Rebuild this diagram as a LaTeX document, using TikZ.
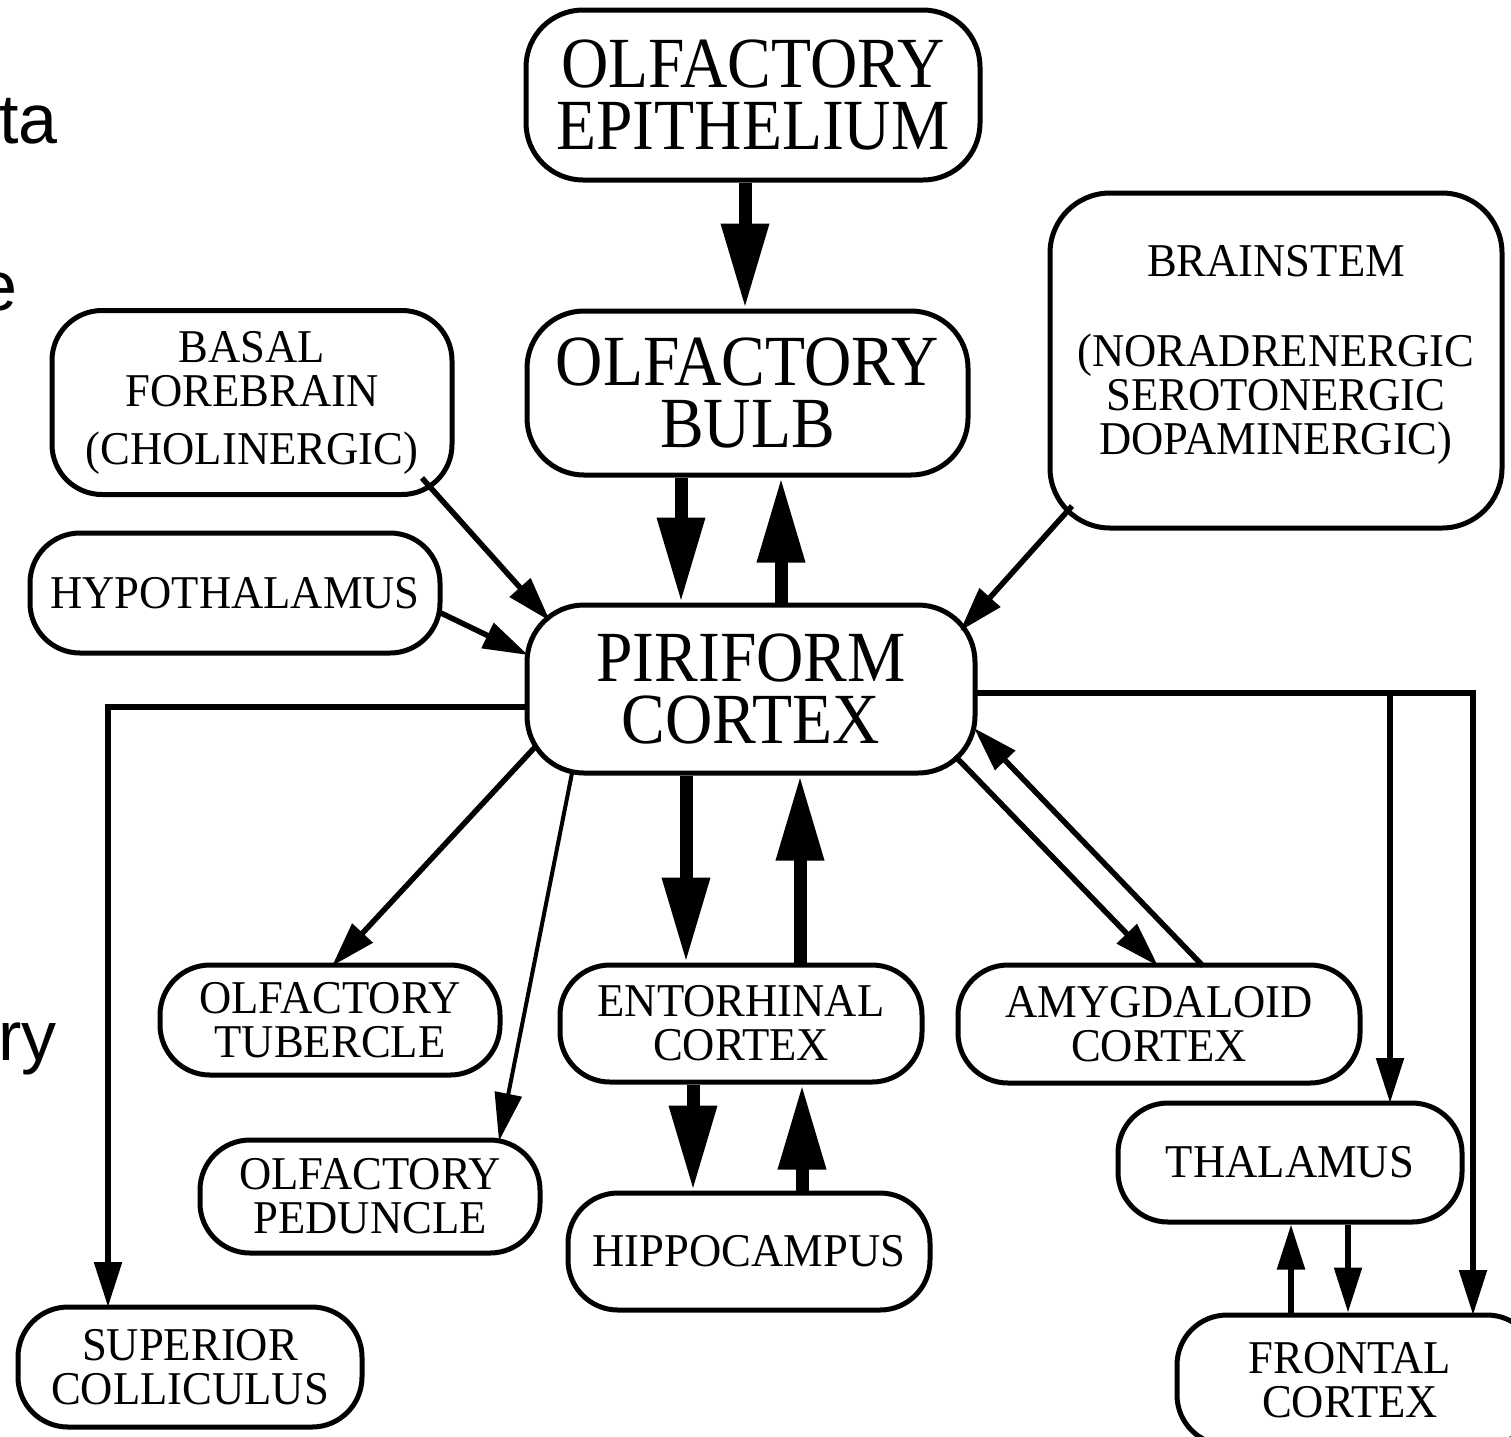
\documentclass[tikz,border=0pt]{standalone}
\usepackage{fontspec}
\usetikzlibrary{arrows.meta}
\newfontfamily\bigserif{Liberation Serif}[FakeStretch=0.91]
\newfontfamily\smallserif{Liberation Serif}[FakeStretch=0.95]
\newfontfamily\slidesans{Liberation Sans}

\tikzset{
  region/.style={draw, line width=5pt, rounded corners=50pt, align=center,
    inner sep=0pt, fill=white},
  bigregion/.style={region, rounded corners=57pt,
    font=\bigserif\fontsize{72}{62}\selectfont},
  smallregion/.style={region, font=\smallserif\fontsize{47}{44}\selectfont},
  heavy/.style={line width=13pt, -{Triangle[length=85pt,width=45pt]}},
  medium/.style={line width=5.5pt, -{Triangle[length=45pt,width=27pt]}},
  light/.style={line width=4pt, -{Triangle[length=48pt,width=27pt]}},
  slidetext/.style={anchor=base east, inner sep=0pt,
    font=\slidesans\fontsize{70}{80}\selectfont},
}

\begin{document}
\begin{tikzpicture}[x=1pt, y=-1pt]
\clip (0,0) rectangle (1511,1436);
\fill[white] (0,0) rectangle (1511,1436);

% fragments of slide text at the left edge
\node[slidetext] (frag1) at (58,143) {ta};
\node[slidetext] (frag2) at (18,310) {e};
\node[slidetext] (frag3) at (57,1060) {ry};

% brain regions
\node[bigregion, minimum width=454pt, minimum height=170pt] (epi) at (753,95) {OLFACTORY\\EPITHELIUM};
\node[bigregion, minimum width=441pt, minimum height=164pt] (bulb) at (747.5,393) {OLFACTORY\\BULB};
\node[bigregion, minimum width=448pt, minimum height=168pt] (pir) at (751,689) {PIRIFORM\\CORTEX};

\node[smallregion, minimum width=400pt, minimum height=184pt] (basal) at (252,402.5) {BASAL\\FOREBRAIN\\[14pt](CHOLINERGIC)};
\node[smallregion, minimum width=410pt, minimum height=120pt] (hypo) at (235,593) {HYPOTHALAMUS};
\node[smallregion, rounded corners=60pt, minimum width=452pt, minimum height=335pt] (stem) at (1276,360.5)
  {BRAINSTEM\\[46pt](NORADRENERGIC\\SEROTONERGIC\\DOPAMINERGIC)\rule[-22pt]{0pt}{22pt}};

\node[smallregion, minimum width=340pt, minimum height=110pt] (tub) at (330,1020) {OLFACTORY\\TUBERCLE};
\node[smallregion, minimum width=362pt, minimum height=117pt] (ent) at (741,1023.5) {ENTORHINAL\\CORTEX};
\node[smallregion, minimum width=402pt, minimum height=118pt] (amyg) at (1159,1024) {AMYGDALOID\\CORTEX};
\node[smallregion, minimum width=340pt, minimum height=113pt] (ped) at (370,1196.5) {OLFACTORY\\PEDUNCLE};
\node[smallregion, minimum width=362pt, minimum height=117pt] (hip) at (749,1251.5) {HIPPOCAMPUS};
\node[smallregion, minimum width=344pt, minimum height=119pt] (thal) at (1290,1162.5) {THALAMUS};
\node[smallregion, minimum width=344pt, minimum height=120pt] (col) at (190,1367) {SUPERIOR\\COLLICULUS};
\node[smallregion, minimum width=360pt, minimum height=130pt] (front) at (1357,1380) {\hspace*{-14pt}FRONTAL\\\hspace*{-14pt}CORTEX};

% heavy vertical projections
\coordinate (e1) at ([xshift=-8pt]epi.south);
\draw[heavy] (e1) -- (e1 |- bulb.north);
\coordinate (b1) at ([xshift=-66.5pt]bulb.south);
\draw[heavy] (b1) -- (b1 |- pir.north);
\coordinate (p1) at ([xshift=30pt]pir.north);
\draw[heavy] (p1) -- (p1 |- bulb.south);
\coordinate (p2) at ([xshift=-65pt]pir.south);
\draw[heavy] (p2) -- (p2 |- ent.north);
\coordinate (n1) at ([xshift=59pt]ent.north);
\draw[heavy] (n1) -- (n1 |- pir.south);
\coordinate (n2) at ([xshift=-48pt]ent.south);
\draw[heavy] (n2) -- (n2 |- hip.north);
\coordinate (h1) at ([xshift=53pt]hip.north);
\draw[heavy] (h1) -- (h1 |- ent.south);

% modulatory inputs
\draw[medium] ([shift={(170,75.5)}]basal.center) -- ([shift={(-201,-68)}]pir.center);
\draw[medium] ([shift={(206,20)}]hypo.center) -- ([shift={(-223,-34)}]pir.center);
\draw[medium] ([shift={(-204,145.5)}]stem.center) -- ([shift={(209,-58)}]pir.center);

% piriform outputs
\draw[medium] ([shift={(-215,57)}]pir.center) -- ([shift={(2,-54)}]tub.center);
\draw[light] ([shift={(-179,84)}]pir.center) -- ([shift={(129,-55.5)}]ped.center);
\draw[medium] ([shift={(204,67)}]pir.center) -- ([shift={(-1,-58)}]amyg.center);
\draw[medium] ([shift={(44,-58)}]amyg.center) -- ([shift={(223,39)}]pir.center);
\draw[medium] ([shift={(-224,18)}]pir.center) -| ([shift={(-82,-60)}]col.center);
\draw[medium] ([shift={(224,4)}]pir.center) -| ([shift={(100,-59.5)}]thal.center);
\draw[medium] ([shift={(224,4)}]pir.center) -| ([shift={(116,-65)}]front.center);

% thalamus and frontal cortex
\coordinate (f1) at ([xshift=-66pt]front.north);
\draw[medium] (f1) -- (f1 |- thal.south);
\coordinate (t1) at ([xshift=58pt]thal.south);
\draw[medium] (t1) -- (t1 |- front.north);
\end{tikzpicture}
\end{document}
